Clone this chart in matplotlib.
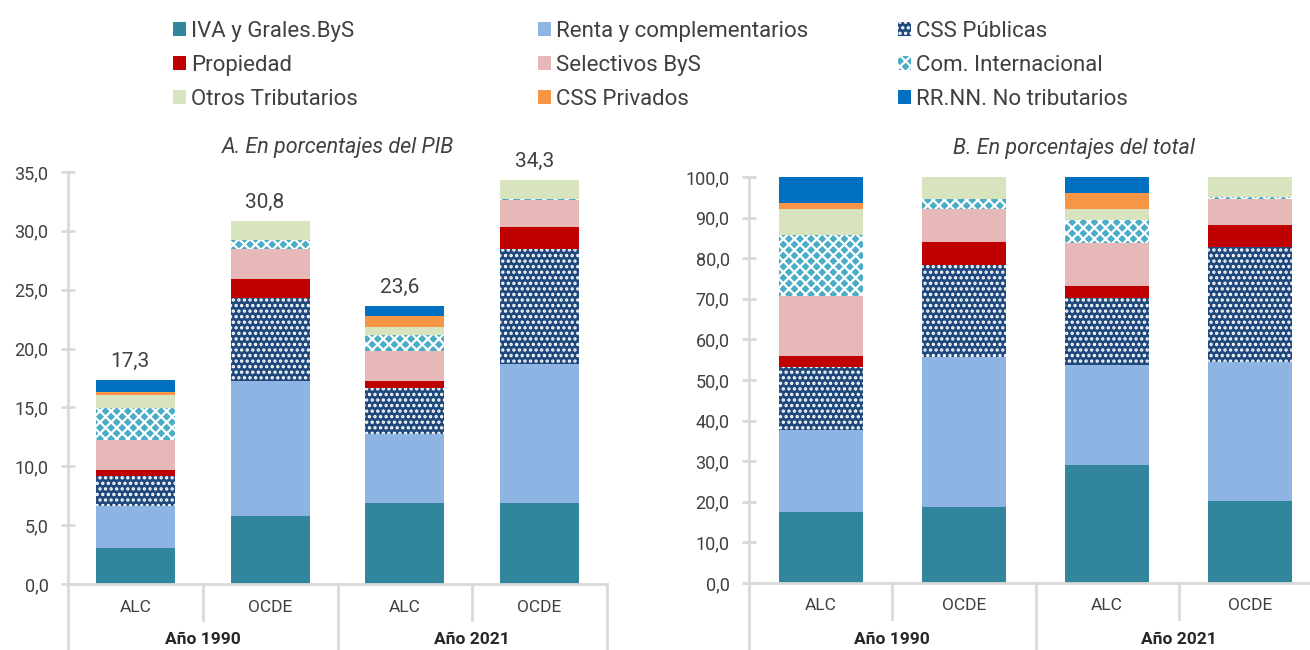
import matplotlib
matplotlib.use("Agg")
import matplotlib.pyplot as plt
from matplotlib.patches import Patch
from matplotlib.ticker import FuncFormatter, MultipleLocator
import numpy as np

plt.rcParams['font.family'] = ['Roboto', 'DejaVu Sans']
plt.rcParams['hatch.linewidth'] = 1.6

series = ["IVA y Grales.ByS", "Renta y complementarios", "CSS Públicas",
          "Propiedad", "Selectivos ByS", "Com. Internacional",
          "Otros Tributarios", "CSS Privados", "RR.NN. No tributarios"]
colors = ["#31859C", "#8EB4E3", "#1F497D", "#C00000", "#E6B9B8",
          "#4BACC6", "#D7E4BD", "#F79646", "#0070C0"]
hatches = [None, None, "...", None, None, "xxx", None, None, None]

categories = ["ALC", "OCDE", "ALC", "OCDE"]
groups = ["Año 1990", "Año 2021"]

# A. porcentajes del PIB  (ALC 1990, OCDE 1990, ALC 2021, OCDE 2021)
pib = {
    "IVA y Grales.ByS":       [3.10, 5.75, 6.90, 6.90],
    "Renta y complementarios": [3.55, 11.50, 5.85, 11.78],
    "CSS Públicas":           [2.50, 7.05, 3.92, 9.80],
    "Propiedad":              [0.57, 1.65, 0.60, 1.87],
    "Selectivos ByS":         [2.55, 2.50, 2.50, 2.25],
    "Com. Internacional":     [2.64, 0.75, 1.38, 0.12],
    "Otros Tributarios":      [1.13, 1.60, 0.72, 1.58],
    "CSS Privados":           [0.30, 0.00, 0.87, 0.00],
    "RR.NN. No tributarios":  [0.96, 0.00, 0.86, 0.00],
}
pib_totals = [17.3, 30.8, 23.6, 34.3]

# B. porcentajes del total
total = {
    "IVA y Grales.ByS":       [17.6, 18.6, 29.1, 20.1],
    "Renta y complementarios": [20.2, 37.0, 24.5, 34.3],
    "CSS Públicas":           [15.4, 22.8, 16.7, 28.4],
    "Propiedad":              [2.8, 5.7, 2.8, 5.4],
    "Selectivos ByS":         [14.6, 8.1, 10.6, 6.5],
    "Com. Internacional":     [15.1, 2.5, 5.6, 0.4],
    "Otros Tributarios":      [6.5, 5.3, 2.9, 4.9],
    "CSS Privados":           [1.4, 0.0, 3.8, 0.0],
    "RR.NN. No tributarios":  [6.4, 0.0, 4.0, 0.0],
}

W, H = 1310, 650
fig = plt.figure(figsize=(13.1, 6.5), dpi=100)
axA = fig.add_axes([68 / W, (H - 584) / H, (607 - 68) / W, 412 / H])
axB = fig.add_axes([749 / W, (H - 583) / H, (1322 - 749) / W, 406 / H])

txt = "#404040"
grey = "#D9D9D9"
fmt = FuncFormatter(lambda v, p: f"{v:.1f}".replace(".", ","))


def stack(ax, data, ymax, step, h_inner, h_outer, hpx):
    x = np.arange(len(categories))
    bottom = np.zeros(len(categories))
    for s, c, h in zip(series, colors, hatches):
        vals = np.array(data[s])
        ax.bar(x, vals, 0.585, bottom=bottom, color=c, hatch=h,
               edgecolor="white" if h else c, linewidth=0)
        bottom += vals
    ax.set_xlim(-0.5, 3.5)
    ax.set_ylim(0, ymax)
    ax.yaxis.set_major_locator(MultipleLocator(step))
    ax.yaxis.set_major_formatter(fmt)
    ax.tick_params(axis="y", direction="inout", length=10, width=2, color=grey,
                   labelcolor=txt, labelsize=13, pad=9)
    ax.tick_params(axis="x", length=0, labelbottom=False)
    for sp in ["top", "right"]:
        ax.spines[sp].set_visible(False)
    for sp in ["left", "bottom"]:
        ax.spines[sp].set_color(grey)
        ax.spines[sp].set_linewidth(2)
    tr = ax.get_xaxis_transform()
    for xb in [0.5, 2.5]:
        ax.plot([xb, xb], [0, h_inner], transform=tr, color=grey, lw=2, clip_on=False)
    for xb in [-0.5, 1.5, 3.5]:
        ax.plot([xb, xb], [0, h_outer], transform=tr, color=grey, lw=2, clip_on=False)
    for xi, c in zip(x, categories):
        ax.text(xi, -23 / hpx, c, transform=tr,
                ha="center", va="center", fontsize=12.5, color=txt)
    for gi, g in enumerate(groups):
        ax.text(2 * gi + 0.5, -56 / hpx, g,
                transform=tr, ha="center", va="center", fontsize=12.5,
                fontweight="bold", color="#262626")


stack(axA, pib, 35, 5, -36 / 412, -0.2, 412)
stack(axB, total, 100, 10, -36 / 406, -0.2, 406)

for xi, t in zip(range(4), pib_totals):
    axA.annotate(f"{t:.1f}".replace(".", ","), (xi - 0.04, t), xytext=(0, 7),
                 textcoords="offset points", ha="center", va="bottom",
                 fontsize=15, color=txt)

axA.text(0.5, 1.06, "A. En porcentajes del PIB", transform=axA.transAxes,
         ha="center", va="center", fontsize=15.5, style="italic", color=txt)
axB.text(0.568, 1.07, "B. En porcentajes del total", transform=axB.transAxes,
         ha="center", va="center", fontsize=15.5, style="italic", color=txt)

# legend: three columns placed separately
handles = [Patch(facecolor=c, hatch=h, edgecolor="white" if h else c, linewidth=0)
           for c, h in zip(colors, hatches)]
cols = [[0, 3, 6], [1, 4, 7], [2, 5, 8]]
xs = [162, 527, 887]
for col, xpos in zip(cols, xs):
    fig.legend([handles[i] for i in col], [series[i] for i in col],
               loc="upper left", bbox_to_anchor=(xpos / W, 1 - 10 / H),
               frameon=False, fontsize=16, handlelength=0.6, handleheight=0.6,
               handletextpad=0.2, labelspacing=0.58, borderpad=0,
               labelcolor=txt)

fig.savefig("out.png", dpi=100)
